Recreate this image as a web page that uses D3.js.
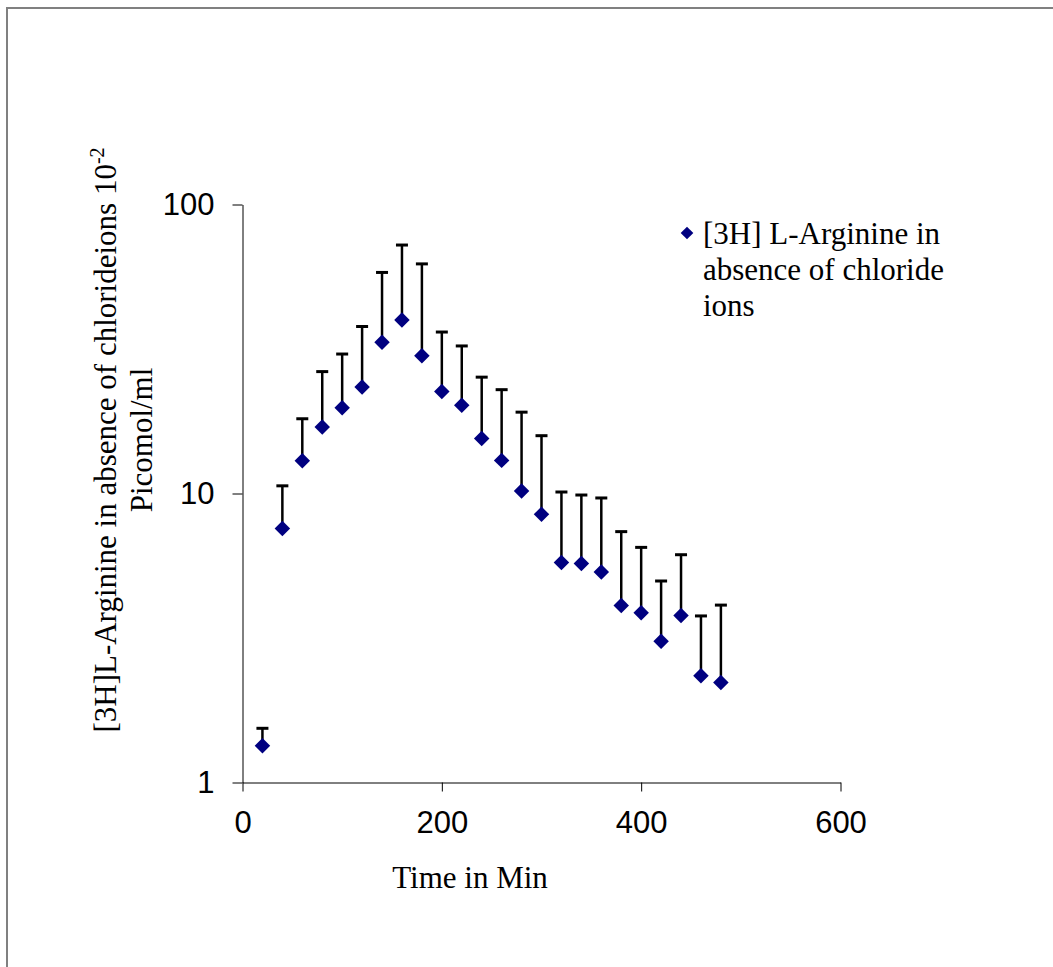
<!DOCTYPE html>
<html>
<head>
<meta charset="utf-8">
<script src="https://cdn.jsdelivr.net/npm/d3@7"></script>
<style>
  body { margin: 0; background: #fff; }
  svg { display: block; }
</style>
</head>
<body>
<div id="chart"></div>
<script>
// time points (min)
const times = [20, 40, 60, 80, 100, 120, 140, 160, 180, 200, 220, 240,
               260, 280, 300, 320, 340, 360, 380, 400, 420, 440, 460, 480];
// [3H] L-Arginine, absence of chloride ions (x10^-2 picomol/ml)
const means = [1.34, 7.56, 12.98, 16.99, 19.81, 23.34, 33.36, 39.86, 29.98, 22.52, 20.2, 15.51,
               13.02, 10.2, 8.47, 5.77, 5.72, 5.35, 4.10, 3.87, 3.08, 3.78, 2.34, 2.22];
// upper error (SD)
const errors = [0.20, 3.07, 5.16, 9.42, 10.57, 14.49, 24.84, 32.54, 32.32, 13.68, 12.2, 9.76,
                9.85, 8.92, 7.38, 4.35, 4.16, 4.30, 3.28, 2.64, 1.90, 2.36, 1.43, 1.89];
const xTicks = [0, 200, 400, 600];
const yTicks = [1, 10, 100];
const legendLines = ["[3H] L-Arginine in", "absence of chloride", "ions"];

const width = 1053, height = 967;
const data = times.map((t, i) => ({ t: t, v: means[i], e: errors[i] }));

const svg = d3.select("#chart")
    .append("svg")
    .attr("width", width)
    .attr("height", height);

// outer frame
svg.append("rect")
    .attr("x", 7).attr("y", 8)
    .attr("width", 1100).attr("height", 1100)
    .attr("fill", "#fff")
    .attr("stroke", "#808080")
    .attr("stroke-width", 2);

const x = d3.scaleLinear().domain([0, 600]).range([242.5, 840.5]);
const y = d3.scaleLog().domain([1, 100]).range([782.5, 204.5]);

const xAxis = svg.append("g")
    .attr("transform", "translate(0,782.5)")
    .call(d3.axisBottom(x).tickValues(xTicks).tickSize(9).tickSizeOuter(0).tickPadding(19));

const yAxis = svg.append("g")
    .attr("transform", "translate(242.5,0)")
    .call(d3.axisLeft(y).tickValues(yTicks).tickSize(10).tickSizeOuter(0).tickPadding(18)
        .tickFormat(d3.format("d")));

[xAxis, yAxis].forEach(g => {
    g.selectAll("path, line").attr("stroke", "#000").attr("stroke-width", 1);
    g.selectAll("text")
        .attr("fill", "#000")
        .style("font-family", "'Liberation Sans', Arial, sans-serif")
        .style("font-size", "31px");
});

// axis titles
svg.append("text")
    .attr("x", 470).attr("y", 888)
    .attr("text-anchor", "middle")
    .style("font-family", "'Liberation Serif', 'Times New Roman', serif")
    .style("font-size", "31px")
    .text("Time in Min");

const yTitle = svg.append("text")
    .attr("transform", "translate(116,440) rotate(-90)")
    .attr("text-anchor", "middle")
    .style("font-family", "'Liberation Serif', 'Times New Roman', serif")
    .style("font-size", "31px");
yTitle.append("tspan").text("[3H]L-Arginine in absence of chlorideions 10");
yTitle.append("tspan").attr("dy", -12).style("font-size", "20px").text("-2");

svg.append("text")
    .attr("transform", "translate(152,440) rotate(-90)")
    .attr("text-anchor", "middle")
    .style("font-family", "'Liberation Serif', 'Times New Roman', serif")
    .style("font-size", "31px")
    .text("Picomol/ml");

// error bars (upper only)
const bars = svg.append("g").attr("stroke", "#000");
bars.selectAll("line.stem")
    .data(data)
    .enter()
    .append("line")
    .attr("class", "stem")
    .attr("stroke-width", 2.5)
    .attr("x1", d => x(d.t)).attr("x2", d => x(d.t))
    .attr("y1", d => y(d.v)).attr("y2", d => y(d.v + d.e));
bars.selectAll("line.cap")
    .data(data)
    .enter()
    .append("line")
    .attr("class", "cap")
    .attr("stroke-width", 3)
    .attr("x1", d => x(d.t) - 6).attr("x2", d => x(d.t) + 6)
    .attr("y1", d => y(d.v + d.e)).attr("y2", d => y(d.v + d.e));

// markers
const diamond = d3.symbol().type(d3.symbolSquare).size(120);
svg.append("g")
    .selectAll("path")
    .data(data)
    .enter()
    .append("path")
    .attr("d", diamond)
    .attr("transform", d => `translate(${x(d.t)},${y(d.v)}) rotate(45)`)
    .attr("fill", "#000080");

// legend
svg.append("path")
    .attr("d", d3.symbol().type(d3.symbolSquare).size(80))
    .attr("transform", "translate(687,233) rotate(45)")
    .attr("fill", "#000080");

svg.append("g")
    .selectAll("text")
    .data(legendLines)
    .enter()
    .append("text")
    .attr("x", 703)
    .attr("y", (d, i) => 244 + i * 36)
    .style("font-family", "'Liberation Serif', 'Times New Roman', serif")
    .style("font-size", "31px")
    .text(d => d);
</script>
</body>
</html>
